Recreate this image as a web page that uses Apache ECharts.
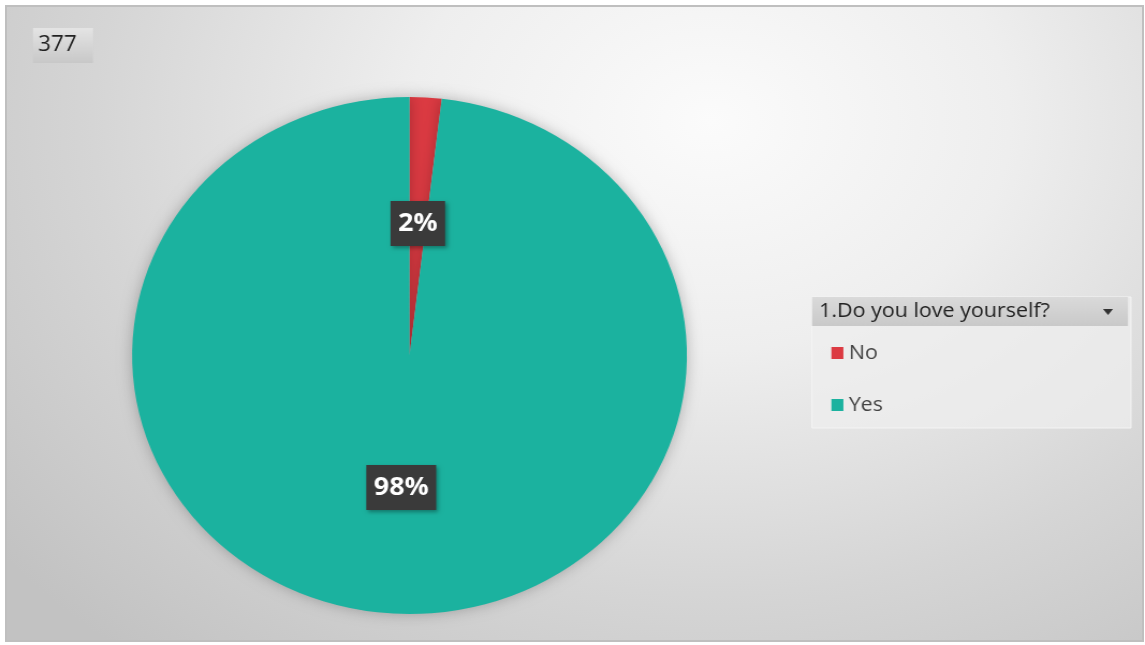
<!DOCTYPE html>
<html>
<head>
<meta charset="utf-8">
<script src="https://cdn.jsdelivr.net/npm/echarts@6/dist/echarts.min.js"></script>
<style>
html,body{margin:0;padding:0;background:#ffffff;width:1145px;height:645px;overflow:hidden;}
#frame{position:absolute;left:5px;top:5px;width:1135px;height:633px;border:2px solid #bfbfbf;
background:radial-gradient(ellipse 80% 110% at 62% 18%, #fbfbfb 0%, #eeeeee 33%, #d5d5d5 68%, #c2c2c2 100%);}
#chart{position:absolute;left:0;top:0;width:1067px;height:645px;transform-origin:0 0;}
</style>
</head>
<body>
<div id="frame"></div>
<div id="chart"></div>
<script>
// ---- data ----
const categories = ['No', 'Yes'];
const values = [7, 370];
const colors = ['#dc3a42', '#1bb29f'];
const totalLabel = '377';
const legendTitle = '1.Do you love yourself?';

// horizontal stretch of the reference picture
const S = 1.0731;
const el = document.getElementById('chart');
el.style.transform = 'scaleX(' + S + ')';
const X = v => v / S;

const chart = echarts.init(el, null, {renderer: 'canvas'});
const font = '"Open Sans", "Liberation Sans", sans-serif';

const option = {
  backgroundColor: 'transparent',
  animation: false,
  color: colors,
  legend: {
    orient: 'vertical',
    left: X(826),
    top: 337,
    icon: 'rect',
    itemWidth: X(12),
    itemHeight: 12,
    itemGap: 30,
    data: categories,
    textStyle: {color: '#444444', fontSize: 20, fontFamily: font, lineHeight: 22, padding: [0, 0, 0, 0]}
  },
  graphic: [
    {type: 'rect', shape: {x: X(812), y: 297, width: X(1131 - 812), height: 131},
     style: {fill: 'rgba(238,238,238,0.75)', stroke: '#f4f4f4', lineWidth: 1}, z: 0},
    {type: 'rect', shape: {x: X(812), y: 297, width: X(1128 - 812), height: 29},
     style: {fill: new echarts.graphic.LinearGradient(0, 0, 0, 1, [
       {offset: 0, color: '#dadada'}, {offset: 1, color: '#c9c9c9'}])}, z: 1},
    {type: 'text', x: X(819), y: 311,
     style: {text: legendTitle, fill: '#222222', fontSize: 20, fontFamily: font, verticalAlign: 'middle'}, z: 2},
    {type: 'polygon', shape: {points: [[X(1103), 309], [X(1113), 309], [X(1108), 315]]},
     style: {fill: '#333333'}, z: 2},
    {type: 'rect', shape: {x: X(33), y: 28, width: X(60), height: 35},
     style: {fill: new echarts.graphic.LinearGradient(0, 0, 0, 1, [
       {offset: 0, color: '#e4e4e4'}, {offset: 1, color: '#c8c8c8'}])}, z: 1},
    {type: 'text', x: X(38), y: 45,
     style: {text: totalLabel, fill: '#222222', fontSize: 21, fontFamily: font, verticalAlign: 'middle'}, z: 2}
  ],
  series: [{
    type: 'pie',
    center: [X(409.5), 355.5],
    radius: 258.5,
    startAngle: 90,
    clockwise: true,
    percentPrecision: 0,
    avoidLabelOverlap: false,
    data: categories.map((c, i) => ({name: c, value: values[i]})),
    itemStyle: {shadowBlur: 14, shadowColor: 'rgba(0,0,0,0.25)'},
    label: {
      show: true,
      position: 'inside',
      formatter: '{d}%',
      color: '#ffffff',
      fontSize: 25,
      fontWeight: 'bold',
      fontFamily: font,
      backgroundColor: '#3a3a3a',
      padding: [11, 7, 9, 7],
      shadowBlur: 4,
      shadowOffsetX: 2,
      shadowOffsetY: 2,
      shadowColor: 'rgba(0,0,0,0.35)'
    },
    labelLine: {show: false},
    emphasis: {disabled: true}
  }]
};
chart.setOption(option);
</script>
</body>
</html>
